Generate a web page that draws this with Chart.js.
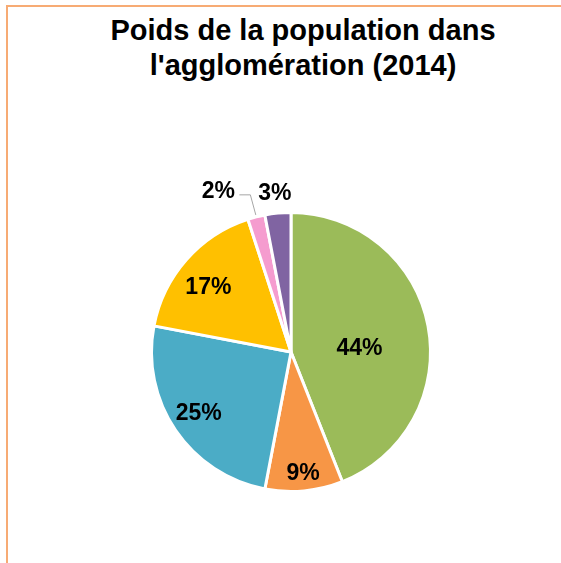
<!DOCTYPE html>
<html>
<head>
<meta charset="utf-8">
<script src="https://cdn.jsdelivr.net/npm/chart.js@4/dist/chart.umd.min.js"></script>
<style>
  html, body { margin: 0; padding: 0; background: #fff; }
  #frame {
    position: absolute; left: 6px; top: 5px; width: 600px; height: 600px;
    border-left: 2px solid #F7AB74; border-top: 2px solid #F7AB74;
  }
  #title {
    position: absolute; left: 0; top: 13px; width: 606px; text-align: center;
    font-family: "Liberation Sans", Arial, sans-serif; font-weight: bold;
    font-size: 29px; line-height: 35px; color: #000;
  }
  #wrap { position: absolute; left: 9px; top: 0; width: 552px; height: 563px; }
</style>
</head>
<body>
<div id="frame"></div>
<div id="title">Poids de la population dans<br>l'agglomération (2014)</div>
<div id="wrap"><canvas id="pieChart"></canvas></div>
<script>
const categories = ['Secteur 1', 'Secteur 2', 'Secteur 3', 'Secteur 4', 'Secteur 5', 'Secteur 6'];
const shares = [44, 9, 25, 17, 2, 3];
const colors = ['#9BBB59', '#F79646', '#4BACC6', '#FFC000', '#F59CCF', '#8064A2'];

// label placement: fraction of radius along the slice's middle angle, plus a small nudge
const labelRadius = [0.5, 0.84, 0.8, 0.78, 1.2, 1.16];
const labelDx = [0, 1, 0, -1, -31, -1];
const labelDy = [10, 5, -1, 8, 2, 3];

const pctLabels = {
  id: 'pctLabels',
  afterDatasetsDraw(chart) {
    const ctx = chart.ctx;
    const meta = chart.getDatasetMeta(0);
    ctx.save();
    ctx.font = 'bold 23px "Liberation Sans", Arial, sans-serif';
    ctx.fillStyle = '#000';
    ctx.textAlign = 'center';
    ctx.textBaseline = 'middle';
    meta.data.forEach((arc, i) => {
      const p = arc.getProps(['x', 'y', 'startAngle', 'endAngle', 'outerRadius'], true);
      const mid = (p.startAngle + p.endAngle) / 2;
      const r = p.outerRadius * labelRadius[i];
      const lx = p.x + Math.cos(mid) * r + labelDx[i];
      const ly = p.y + Math.sin(mid) * r + labelDy[i];
      ctx.fillText(shares[i] + '%', lx, ly);
      if (labelDx[i] < -10) {
        // leader line from the label to the slice edge
        ctx.strokeStyle = '#A6A6A6';
        ctx.lineWidth = 1;
        ctx.beginPath();
        ctx.moveTo(lx + 21, ly + 3);
        ctx.lineTo(lx + 32, ly + 3);
        ctx.lineTo(p.x + Math.cos(mid) * (p.outerRadius + 2), p.y + Math.sin(mid) * (p.outerRadius + 2));
        ctx.stroke();
      }
    });
    ctx.restore();
  }
};

new Chart(document.getElementById('pieChart'), {
  type: 'pie',
  data: {
    labels: categories,
    datasets: [{
      data: shares,
      backgroundColor: colors,
      borderColor: '#fff',
      borderWidth: 3
    }]
  },
  options: {
    responsive: true,
    maintainAspectRatio: false,
    animation: false,
    layout: { padding: { left: 141, right: 129, top: 211, bottom: 70 } },
    plugins: {
      legend: { display: false },
      tooltip: { enabled: false }
    }
  },
  plugins: [pctLabels]
});
</script>
</body>
</html>
